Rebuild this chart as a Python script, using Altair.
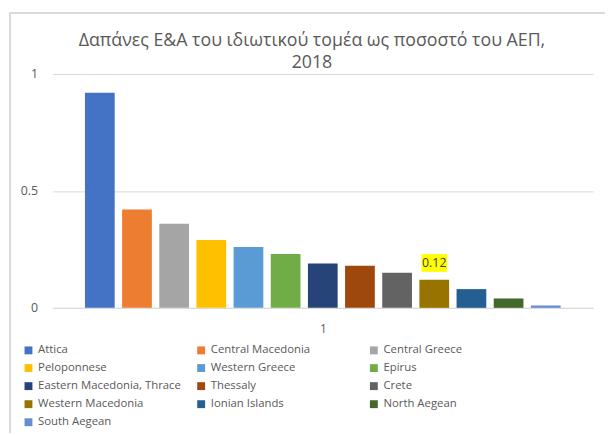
import altair as alt
import pandas as pd

regions = ["Attica", "Central Macedonia", "Central Greece", "Peloponnese",
           "Western Greece", "Epirus", "Eastern Macedonia, Thrace", "Thessaly",
           "Crete", "Western Macedonia", "Ionian Islands", "North Aegean", "South Aegean"]
values = [0.92, 0.42, 0.36, 0.29, 0.26, 0.23, 0.19, 0.18, 0.15, 0.12, 0.08, 0.04, 0.01]
colors = ["#4472C4", "#ED7D31", "#A5A5A5", "#FFC000", "#5B9BD5", "#70AD47",
          "#264478", "#9E480E", "#636363", "#997300", "#255E91", "#43682B", "#698ED0"]
labelled = "Western Macedonia"
title_lines = ["Δαπάνες Ε&Α του ιδιωτικού τομέα ως ποσοστό του ΑΕΠ,", "2018"]

df = pd.DataFrame({"region": regions, "value": values})

FONT = "Open Sans"
GREY = "#595959"

x = alt.X("region:N", sort=regions,
          scale=alt.Scale(paddingInner=0.2, paddingOuter=0.876),
          axis=alt.Axis(title="1", labels=False, ticks=False, domain=True,
                        domainColor="#D9D9D9", grid=False,
                        titleFont=FONT, titleFontSize=12, titleColor=GREY,
                        titleFontWeight="normal", titlePadding=16))
y = alt.Y("value:Q", scale=alt.Scale(domain=[0, 1]),
          axis=alt.Axis(title=None, values=[0, 0.5, 1], format="~g", ticks=False,
                        domain=False, gridColor="#D9D9D9", labelFont=FONT,
                        labelFontSize=12.5, labelColor=GREY, labelPadding=15))

bars = alt.Chart(df).mark_bar().encode(
    x=x, y=y,
    color=alt.Color("region:N",
                    scale=alt.Scale(domain=regions, range=colors),
                    legend=alt.Legend(orient="none", legendX=-30, legendY=274,
                                      direction="horizontal",
                                      columns=3, title=None, symbolType="square",
                                      symbolSize=64, symbolStrokeWidth=0,
                                      labelFont=FONT, labelFontSize=11.5,
                                      labelColor=GREY, gridAlign="all",
                                      columnPadding=14, rowPadding=5.3,
                                      labelOffset=4, labelLimit=300))
)

hl = alt.Chart(df).transform_filter(alt.datum.region == labelled)
hl_rect = hl.mark_rect(color="#FFFF00", width=26, height=18, yOffset=-17).encode(
    x=alt.X("region:N", sort=regions), y="value:Q")
hl_text = hl.mark_text(dy=-17, font=FONT, fontSize=12.5, color="#404040").encode(
    x=alt.X("region:N", sort=regions), y="value:Q",
    text=alt.Text("value:Q", format=".2f"))

frame_v = alt.Chart(df).mark_rule(color="#D9D9D9").encode(
    x=alt.value(-43), y=alt.value(-62), y2=alt.value(370))
frame_h = alt.Chart(df).mark_rule(color="#D9D9D9").encode(
    x=alt.value(-43), x2=alt.value(560), y=alt.value(-62))

chart = alt.layer(frame_v, frame_h, bars, hl_rect, hl_text).properties(
    width=548, height=237,
    autosize=alt.AutoSizeParams(type="none"),
    padding={"left": 45, "top": 64, "right": 12, "bottom": 124},
    title=alt.TitleParams(text=title_lines, font=FONT, fontSize=18,
                          fontWeight="normal", color=GREY, anchor="middle",
                          frame="group", offset=-60, dx=-11, lineHeight=22),
).configure_view(stroke=None)

chart.save("out.html", embed_options={"renderer": "svg", "actions": False})
